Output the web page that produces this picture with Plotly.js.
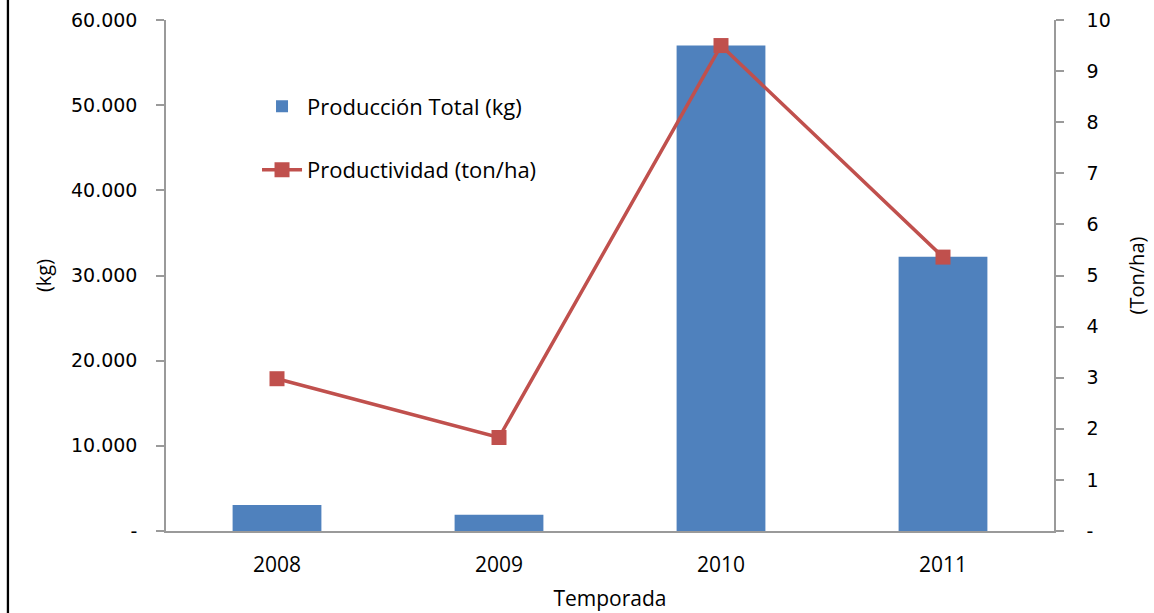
<!DOCTYPE html>
<html>
<head>
<meta charset="utf-8">
<script src="https://cdn.plot.ly/plotly-3.0.1.min.js"></script>
<style>
html,body{margin:0;padding:0;background:#fff;}
#chart{width:1154px;height:613px;}
</style>
</head>
<body>
<div id="chart"></div>
<script>
const temporadas = ['2008', '2009', '2010', '2011'];
const produccionTotal = [3050, 1900, 57000, 32200];
const productividad = [2.98, 1.83, 9.5, 5.36];
const leftTickVals = [0, 10000, 20000, 30000, 40000, 50000, 60000];
const leftTickText = ['-', '10.000', '20.000', '30.000', '40.000', '50.000', '60.000'];
const rightTickVals = [0, 1, 2, 3, 4, 5, 6, 7, 8, 9, 10];
const rightTickText = ['-', '1', '2', '3', '4', '5', '6', '7', '8', '9', '10'];

const traces = [
  {
    type: 'bar',
    x: temporadas,
    y: produccionTotal,
    name: 'Producción Total (kg)',
    legendgroup: 'a',
    marker: {color: '#4F81BD'},
    yaxis: 'y'
  },
  {
    type: 'scatter',
    mode: 'lines+markers',
    x: temporadas,
    y: productividad,
    name: 'Productividad (ton/ha)',
    legendgroup: 'b',
    line: {color: '#C0504D', width: 3.5},
    marker: {symbol: 'square', size: 15, color: '#C0504D'},
    yaxis: 'y2'
  }
];

const axisFont = {family: 'DejaVu Sans, sans-serif', size: 19, color: '#000'};

const layout = {
  width: 1154,
  height: 613,
  margin: {l: 166, r: 100, t: 20, b: 82},
  paper_bgcolor: '#fff',
  plot_bgcolor: '#fff',
  bargap: 0.6,
  showlegend: true,
  legend: {
    x: 0.1025, y: 0.872, xanchor: 'left', yanchor: 'top',
    font: {family: 'Open Sans, sans-serif', size: 22, color: '#000'},
    tracegroupgap: 32,
    itemwidth: 40,
    bgcolor: 'rgba(0,0,0,0)'
  },
  xaxis: {
    type: 'category',
    showline: true, linecolor: '#9a9a9a', linewidth: 2,
    ticks: '',
    tickfont: {family: 'Open Sans, sans-serif', size: 21, color: '#000'},
    ticklabelstandoff: 14,
    title: {text: 'Temporada', font: {family: 'Open Sans, sans-serif', size: 21, color: '#000'}, standoff: 14},
    showgrid: false, zeroline: false
  },
  yaxis: {
    range: [0, 60000],
    tickvals: leftTickVals, ticktext: leftTickText,
    showline: true, linecolor: '#9a9a9a', linewidth: 1.5,
    ticks: 'outside', ticklen: 8, tickcolor: '#9a9a9a', tickwidth: 1.5,
    tickfont: axisFont,
    ticklabelstandoff: 15,
    title: {text: '(kg)', font: {family: 'Open Sans, sans-serif', size: 20, color: '#000'}, standoff: 14},
    showgrid: false, zeroline: false
  },
  yaxis2: {
    range: [0, 10],
    overlaying: 'y', side: 'right',
    tickvals: rightTickVals, ticktext: rightTickText,
    showline: true, linecolor: '#9a9a9a', linewidth: 1.5,
    ticks: 'outside', ticklen: 8, tickcolor: '#9a9a9a', tickwidth: 1.5,
    tickfont: axisFont,
    ticklabelstandoff: 19,
    title: {text: '(Ton/ha)', font: {family: 'Open Sans, sans-serif', size: 20, color: '#000'}, standoff: 20},
    showgrid: false, zeroline: false
  },
  shapes: [
    {type: 'line', xref: 'paper', yref: 'paper', x0: -0.178, x1: -0.178, y0: -0.2, y1: 1.1,
     line: {color: '#000', width: 2.3}}
  ]
};

Plotly.newPlot('chart', traces, layout, {displayModeBar: false, responsive: false});
</script>
</body>
</html>
